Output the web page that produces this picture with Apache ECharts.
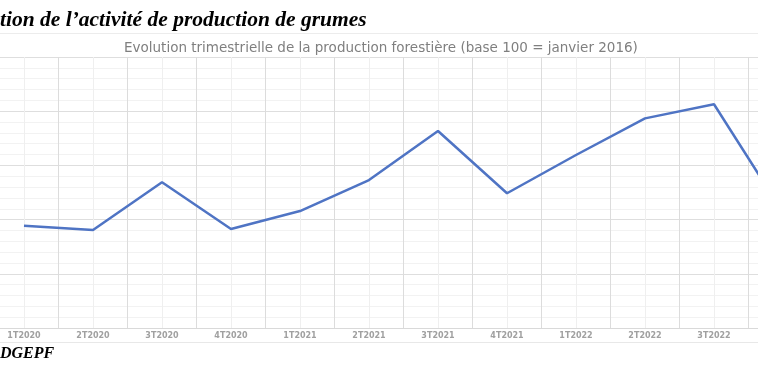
<!DOCTYPE html>
<html>
<head>
<meta charset="utf-8">
<script src="https://cdn.jsdelivr.net/npm/echarts@6/dist/echarts.min.js"></script>
<style>html,body{margin:0;padding:0;background:#fff;}#c{width:758px;height:380px;}</style>
</head>
<body>
<div id="c"></div>
<script>
var categories = ['1T2020','2T2020','3T2020','4T2020','1T2021','2T2021','3T2021','4T2021','1T2022','2T2022','3T2022','4T2022'];
var production = [94.4, 90.4, 134.4, 91.3, 107.9, 136.5, 181.7, 124.3, 159.6, 193.4, 206.4, 106.5];
var halfSlots = [];
for (var i = 0; i < categories.length * 2; i++) { halfSlots.push(String(i)); }

var chart = echarts.init(document.getElementById('c'));
chart.setOption({
  animation: false,
  backgroundColor: '#ffffff',
  title: [{
    text: 'tion de l\u2019activit\u00e9 de production de grumes',
    left: 0, top: 9, padding: 0,
    textStyle: { fontFamily: 'Liberation Serif', fontStyle: 'italic', fontWeight: 'bold', fontSize: 21.5, color: '#000' }
  }, {
    text: 'Evolution trimestrielle de la production foresti\u00e8re (base 100 = janvier 2016)',
    left: 124, top: 41, padding: 0,
    textStyle: { fontFamily: 'DejaVu Sans', fontWeight: 'normal', fontSize: 13.5, color: '#7f7f7f' }
  }],
  graphic: [
    { type: 'line', shape: { x1: 0, y1: 33.5, x2: 758, y2: 33.5 }, style: { stroke: '#ececec', lineWidth: 1 } },
    { type: 'line', shape: { x1: 0, y1: 342.5, x2: 758, y2: 342.5 }, style: { stroke: '#e8e8e8', lineWidth: 1 } },
    { type: 'text', left: 0, top: 346, style: { text: 'DGEPF', font: 'italic bold 16px "Liberation Serif"', fill: '#000' } }
  ],
  grid: { left: -10.5, right: -59.5, top: 57, bottom: 52, containLabel: false, outerBoundsMode: 'none' },
  xAxis: [{
    type: 'category',
    data: categories,
    boundaryGap: true,
    axisLine: { show: true, lineStyle: { color: '#d9d9d9', width: 1 } },
    axisTick: { show: false },
    axisLabel: { color: '#a0a0a0', fontFamily: 'DejaVu Sans', fontWeight: 'bold', fontSize: 8, margin: 4, interval: 0 },
    splitLine: { show: true, interval: 0, lineStyle: { color: '#dcdcdc', width: 1 } },
    z: 3
  }, {
    type: 'category',
    data: halfSlots,
    boundaryGap: true,
    position: 'bottom',
    axisLine: { show: false },
    axisTick: { show: false },
    axisLabel: { show: false },
    splitLine: { show: true, interval: function (idx) { return idx % 2 === 1; }, lineStyle: { color: '#efefef', width: 1 } },
    z: 1
  }],
  yAxis: {
    type: 'value',
    min: 0, max: 250, interval: 50,
    axisLine: { show: false },
    axisTick: { show: false },
    axisLabel: { show: false },
    splitLine: { show: true, lineStyle: { color: '#dedede', width: 1 } },
    minorTick: { show: false, splitNumber: 5 },
    minorSplitLine: { show: true, lineStyle: { color: '#f2f2f2', width: 1 } }
  },
  series: [{
    type: 'line',
    data: production,
    xAxisIndex: 0,
    symbol: 'none',
    smooth: false,
    lineStyle: { color: '#4f74c4', width: 2.5 },
    z: 5
  }]
});
</script>
</body>
</html>
